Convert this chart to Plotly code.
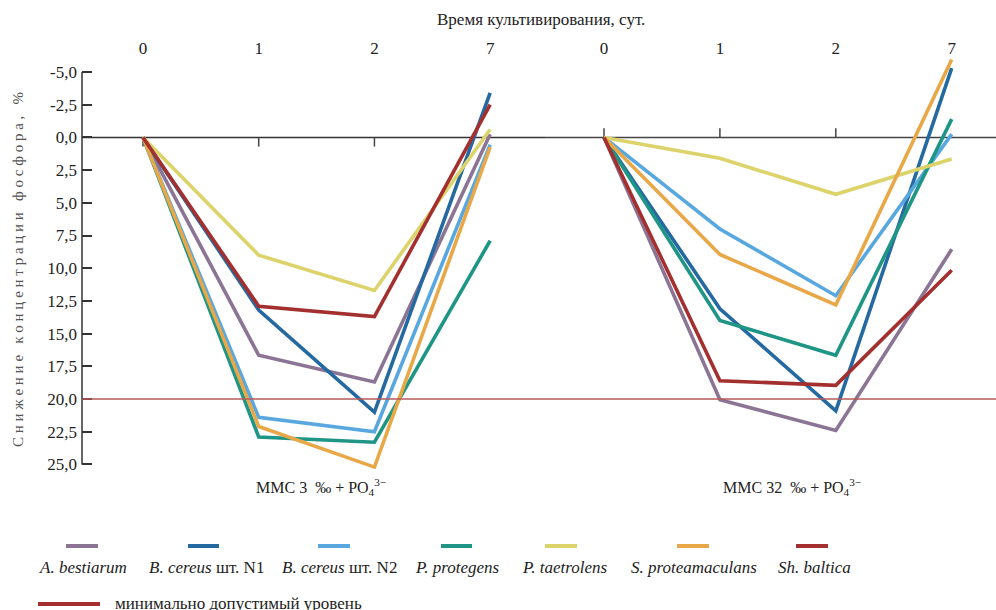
import plotly.graph_objects as go

# ---------------- data ----------------
days = ["0", "1", "2", "7"]
species = ["A. bestiarum", "B. cereus шт. N1", "B. cereus шт. N2", "P. protegens",
           "P. taetrolens", "S. proteamaculans", "Sh. baltica"]
legend_labels = ["<i>A. bestiarum</i>", "<i>B. cereus</i> шт. N1", "<i>B. cereus</i> шт. N2",
                 "<i>P. protegens</i>", "<i>P. taetrolens</i>", "<i>S. proteamaculans</i>",
                 "<i>Sh. baltica</i>"]
colors = ["#8b7494", "#2569a1", "#58a8df", "#1f9586", "#dcd36a", "#e9a848", "#a3302f"]

# MMC 3 ‰ + PO4 (left panel)
a_bestiarum_3 = [0, 16.65, 18.7, -0.25]
b_cereus_n1_3 = [0, 13.2, 21.0, -3.4]
b_cereus_n2_3 = [0, 21.4, 22.5, 0.55]
p_protegens_3 = [0, 22.9, 23.3, 7.9]
p_taetrolens_3 = [0, 9.0, 11.7, -0.6]
s_proteamaculans_3 = [0, 22.1, 25.2, 0.75]
sh_baltica_3 = [0, 12.9, 13.7, -2.5]

# MMC 32 ‰ + PO4 (right panel)
a_bestiarum_32 = [0, 20.05, 22.4, 8.55]
b_cereus_n1_32 = [0, 13.1, 20.9, -5.3]
b_cereus_n2_32 = [0, 7.0, 12.1, -0.25]
p_protegens_32 = [0, 14.0, 16.65, -1.4]
p_taetrolens_32 = [0, 1.6, 4.35, 1.65]
s_proteamaculans_32 = [0, 8.95, 12.8, -5.95]
sh_baltica_32 = [0, 18.6, 18.95, 10.15]

series_3 = [a_bestiarum_3, b_cereus_n1_3, b_cereus_n2_3, p_protegens_3,
            p_taetrolens_3, s_proteamaculans_3, sh_baltica_3]
series_32 = [a_bestiarum_32, b_cereus_n1_32, b_cereus_n2_32, p_protegens_32,
             p_taetrolens_32, s_proteamaculans_32, sh_baltica_32]

min_level = 20.0
y_ticks = [-5, -2.5, 0, 2.5, 5, 7.5, 10, 12.5, 15, 17.5, 20, 22.5, 25]
y_ticktext = [f"{v:.1f}".replace(".", ",") for v in y_ticks]

# ---------------- layout helpers ----------------
W, H = 996, 610
ML, MT, MB = 82, 58, 139
PW = W - ML
PH = H - MT - MB
FONT = "Liberation Serif, Times New Roman, Times, DejaVu Serif, serif"
FS = 17


def xp(px):
    return (px - ML) / PW


def yp(py):
    return (H - MB - py) / PH


fig = go.Figure()

draw_order = [0, 1, 2, 3, 4, 5, 6]
for i in draw_order:
    fig.add_trace(go.Scatter(x=days, y=series_3[i], mode="lines", xaxis="x", yaxis="y",
                             line=dict(color=colors[i], width=3.6), name=species[i],
                             showlegend=False))
for i in draw_order:
    fig.add_trace(go.Scatter(x=days, y=series_32[i], mode="lines", xaxis="x2", yaxis="y",
                             line=dict(color=colors[i], width=3.6), name=species[i],
                             showlegend=False))

split = xp(545)
xcommon = dict(type="category", categoryorder="array", categoryarray=days, side="top",
               showline=False, showgrid=False, zeroline=False, ticks="",
               tickfont=dict(family=FONT, size=FS, color="#222"), anchor="y")
fig.update_layout(
    width=W, height=H,
    margin=dict(l=ML, r=0, t=MT, b=MB, autoexpand=False),
    paper_bgcolor="white", plot_bgcolor="white",
    font=dict(family=FONT, color="#222"),
    xaxis=dict(domain=[0, split], range=[-0.527, 3.474], **xcommon),
    xaxis2=dict(domain=[split, 1], range=[-0.509, 3.382], **xcommon),
    yaxis=dict(range=[25.5, -6.07], tickvals=y_ticks, ticktext=y_ticktext,
               ticks="inside", ticklen=10, tickwidth=1.5, tickcolor="#333",
               ticklabelstandoff=4,
               showline=False, showgrid=False, zeroline=False, anchor="x",
               tickfont=dict(family=FONT, size=FS, color="#222")),
)

shapes = []
# y axis line
shapes.append(dict(type="line", xref="paper", yref="y", x0=0, x1=0, y0=-5, y1=25,
                   line=dict(color="#333", width=1.5), layer="above"))
# zero lines
shapes.append(dict(type="line", xref="paper", yref="y", x0=0, x1=split, y0=0, y1=0,
                   line=dict(color="#333", width=1.5), layer="below"))
shapes.append(dict(type="line", xref="paper", yref="y", x0=split, x1=1, y0=0, y1=0,
                   line=dict(color="#444", width=1.5), layer="below"))
# category tick marks
for d in days:
    shapes.append(dict(type="line", xref="x", yref="y", x0=d, x1=d, y0=0, y1=0.7,
                       line=dict(color="#444", width=1.5), layer="below"))
    shapes.append(dict(type="line", xref="x2", yref="y", x0=d, x1=d, y0=0, y1=-0.7,
                       line=dict(color="#444", width=1.5), layer="below"))
# minimum level
shapes.append(dict(type="line", xref="paper", yref="y", x0=0, x1=1, y0=min_level, y1=min_level,
                   line=dict(color="#b65a5a", width=1.5), layer="above"))

annotations = []
annotations.append(dict(text="Время культивирования, сут.", xref="paper", yref="paper",
                        x=xp(541), y=yp(20), showarrow=False, xanchor="center", yanchor="middle",
                        font=dict(family=FONT, size=FS, color="#222")))
ytitle = "С н и ж е н и е   к о н ц е н т р а ц и и   ф о с ф о р а ,   %"
annotations.append(dict(text=ytitle, xref="paper", yref="paper", x=xp(18), y=yp(270),
                        showarrow=False, textangle=-90, xanchor="center", yanchor="middle",
                        font=dict(family=FONT, size=15, color="#555")))
annotations.append(dict(text="ММС 3  ‰ + PO<sub>4</sub><sup>3−</sup>", xref="paper", yref="paper",
                        x=xp(321), y=yp(487), showarrow=False, xanchor="center", yanchor="middle",
                        font=dict(family=FONT, size=16, color="#222")))
annotations.append(dict(text="ММС 32  ‰ + PO<sub>4</sub><sup>3−</sup>", xref="paper", yref="paper",
                        x=xp(792), y=yp(487), showarrow=False, xanchor="center", yanchor="middle",
                        font=dict(family=FONT, size=16, color="#222")))

# custom legend
leg_lines = [(66, 98), (188, 219), (318, 350), (441, 472), (545, 577), (677, 709), (796, 828)]
leg_text_x = [83, 206, 339, 457, 564, 694, 814]
for i in range(len(species)):
    x0, x1 = leg_lines[i]
    shapes.append(dict(type="line", xref="paper", yref="paper", x0=xp(x0), x1=xp(x1),
                       y0=yp(546), y1=yp(546), line=dict(color=colors[i], width=4)))
    annotations.append(dict(text=legend_labels[i], xref="paper", yref="paper",
                            x=xp(leg_text_x[i]), y=yp(567), showarrow=False,
                            xanchor="center", yanchor="middle",
                            font=dict(family=FONT, size=FS, color="#222")))
shapes.append(dict(type="line", xref="paper", yref="paper", x0=xp(38), x1=xp(100),
                   y0=yp(604), y1=yp(604), line=dict(color="#a3302f", width=4)))
annotations.append(dict(text="минимально допустимый уровень", xref="paper", yref="paper",
                        x=xp(113), y=yp(603), showarrow=False, xanchor="left", yanchor="middle",
                        font=dict(family=FONT, size=FS, color="#222")))

fig.update_layout(shapes=shapes, annotations=annotations)
fig.write_html("out.html", config={"displayModeBar": False},
               post_script="document.body.style.margin='0';document.body.style.padding='0';")
